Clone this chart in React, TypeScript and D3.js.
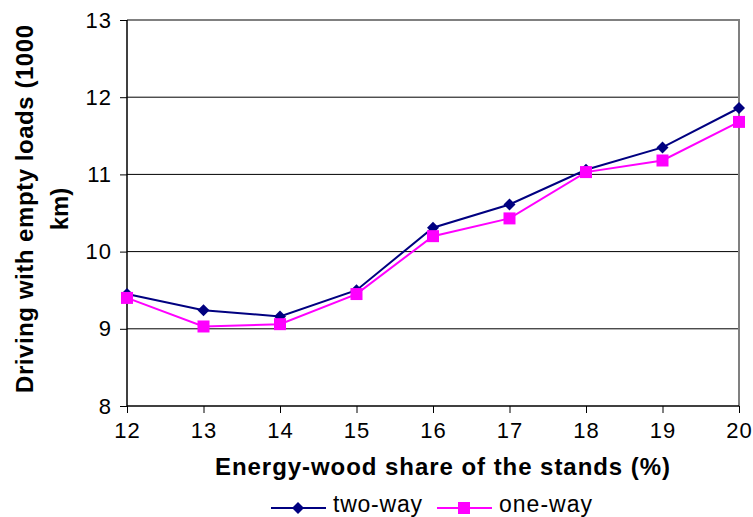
import React, { useEffect, useRef } from "react";
import * as d3 from "d3";

const shares = [12, 13, 14, 15, 16, 17, 18, 19, 20];
const twoWay = [9.45, 9.24, 9.16, 9.5, 10.31, 10.61, 11.06, 11.35, 11.86];
const oneWay = [9.4, 9.03, 9.06, 9.45, 10.2, 10.43, 11.03, 11.18, 11.68];
const yTicks = [8, 9, 10, 11, 12, 13];

const navy = "#000080";
const magenta = "#ff00ff";
const font = "'Liberation Sans', Arial, sans-serif";

const App: React.FC = () => {
    const svgRef = useRef<SVGSVGElement | null>(null);

    useEffect(() => {
        const svg = d3.select(svgRef.current);
        svg.selectAll("*").remove();

        const margin = { top: 20, right: 14, bottom: 111, left: 127 };
        const width = 753 - margin.left - margin.right;
        const height = 517 - margin.top - margin.bottom;
        const g = svg.append("g").attr("transform", `translate(${margin.left},${margin.top})`);

        const x = d3.scaleLinear().domain([12, 20]).range([0, width]);
        const y = d3.scaleLinear().domain([8, 13]).range([height, 0]);

        // gridlines
        g.append("g")
            .selectAll("line")
            .data(yTicks.filter((t) => t > 8 && t < 13))
            .join("line")
            .attr("x1", 0).attr("x2", width)
            .attr("y1", (d) => y(d)).attr("y2", (d) => y(d))
            .attr("stroke", "#000").attr("stroke-width", 1);

        // top / right border
        g.append("path")
            .attr("d", `M0,${y(13)}H${width}V${height}`)
            .attr("fill", "none").attr("stroke", "#808080").attr("stroke-width", 2);

        const yAxis = g.append("g")
            .call(d3.axisLeft(y).tickValues(yTicks).tickSize(7).tickPadding(8).tickFormat(d3.format("d")));
        yAxis.select(".domain").attr("stroke", "#000").attr("stroke-width", 1.5).attr("d", `M0,0V${height}`);
        yAxis.selectAll("text").style("font-family", font).style("font-size", "22px")
            .style("letter-spacing", "1px").attr("fill", "#000");

        const xAxis = g.append("g").attr("transform", `translate(0,${height})`)
            .call(d3.axisBottom(x).tickValues(shares).tickSize(7).tickPadding(9).tickFormat(d3.format("d")));
        xAxis.select(".domain").attr("stroke", "#000").attr("stroke-width", 1.5).attr("d", `M0,0H${width}`);
        xAxis.selectAll("text").style("font-family", font).style("font-size", "22px")
            .style("letter-spacing", "1px").attr("fill", "#000");

        const series = [
            { name: "two-way", values: twoWay, color: navy, rotate: 45, size: 72 },
            { name: "one-way", values: oneWay, color: magenta, rotate: 0, size: 144 },
        ];

        const line = d3.line<number>()
            .x((_, i) => x(shares[i]))
            .y((d) => y(d));

        series.forEach((s) => {
            g.append("path")
                .datum(s.values)
                .attr("fill", "none")
                .attr("stroke", s.color)
                .attr("stroke-width", 2)
                .attr("d", line);
            g.append("g")
                .selectAll("path")
                .data(s.values)
                .join("path")
                .attr("transform", (d, i) => `translate(${x(shares[i])},${y(d)}) rotate(${s.rotate})`)
                .attr("d", d3.symbol().type(d3.symbolSquare).size(s.size)())
                .attr("fill", s.color);
        });

        // axis titles
        svg.append("text")
            .attr("x", 215).attr("y", 475)
            .attr("textLength", 455).attr("lengthAdjust", "spacing")
            .style("font-family", font).style("font-size", "24px").style("font-weight", "bold")
            .text("Energy-wood share of the stands (%)");

        const yTitle = svg.append("g").attr("transform", "translate(0,209) rotate(-90)");
        yTitle.append("text")
            .attr("x", -184).attr("y", 33)
            .attr("textLength", 368).attr("lengthAdjust", "spacing")
            .style("font-family", font).style("font-size", "24px").style("font-weight", "bold")
            .text("Driving with empty loads (1000");
        yTitle.append("text")
            .attr("x", 0).attr("y", 68)
            .attr("text-anchor", "middle")
            .style("font-family", font).style("font-size", "24px").style("font-weight", "bold")
            .text("km)");

        // legend
        const legend = svg.append("g").attr("transform", "translate(271,508)");
        series.forEach((s, i) => {
            const lg = legend.append("g").attr("transform", `translate(${i * 166},0)`);
            lg.append("line").attr("x1", 0).attr("x2", 55).attr("stroke", s.color).attr("stroke-width", 2);
            lg.append("path").attr("transform", `translate(27,0) rotate(${s.rotate})`)
                .attr("d", d3.symbol().type(d3.symbolSquare).size(s.size)()).attr("fill", s.color);
            lg.append("text").attr("x", 62).attr("y", 4)
                .attr("textLength", i === 0 ? 89 : 93).attr("lengthAdjust", "spacing")
                .style("font-family", font).style("font-size", "23px")
                .text(s.name);
        });
    }, []);

    return (
        <div style={{ position: "absolute", left: 0, top: 0 }}>
            <svg ref={svgRef} width={753} height={517} style={{ display: "block", background: "#fff" }}></svg>
        </div>
    );
};

export default App;
